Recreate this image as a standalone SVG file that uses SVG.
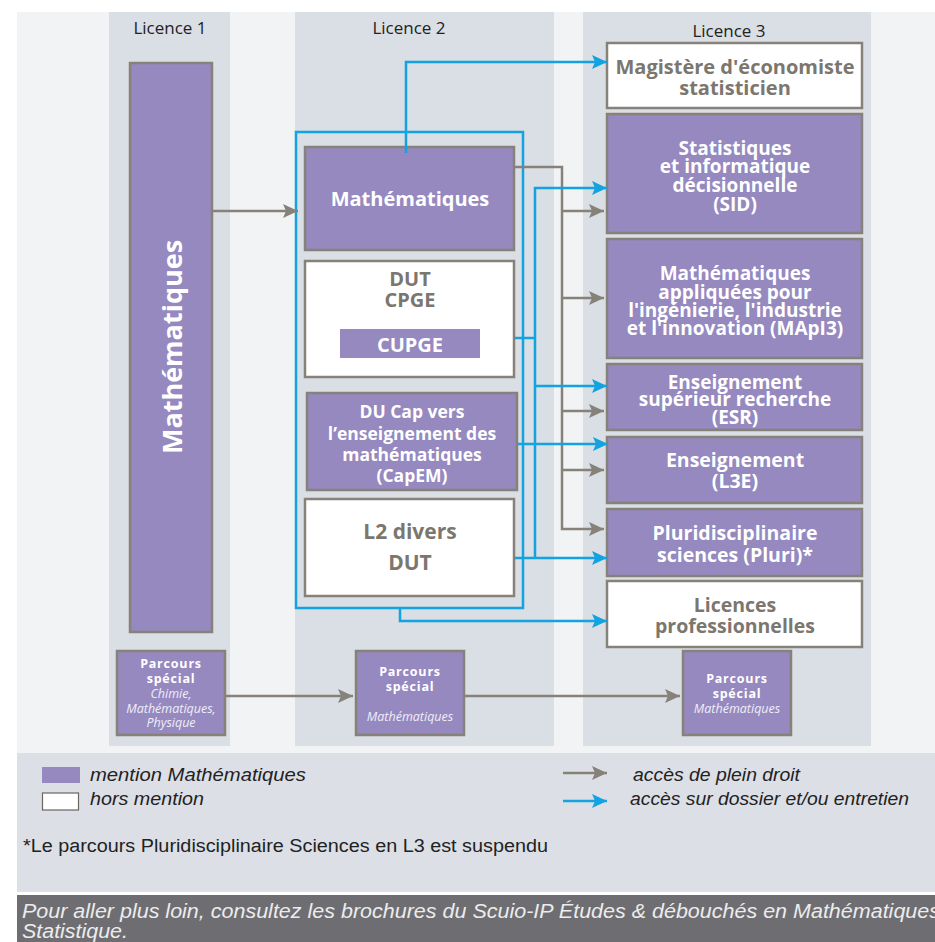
<svg xmlns="http://www.w3.org/2000/svg" width="935" height="942" viewBox="0 0 935 942">
<defs>
<marker id="ag" markerUnits="userSpaceOnUse" markerWidth="16" markerHeight="14" refX="15" refY="7" orient="auto"><path d="M0,0 L15,7 L0,14 L3,7 Z" fill="#878279"/></marker>
<marker id="ab" markerUnits="userSpaceOnUse" markerWidth="16" markerHeight="14" refX="15" refY="7" orient="auto"><path d="M0,0 L15,7 L0,14 L3,7 Z" fill="#13a3e0"/></marker>
<style>
.col{fill:#dadee5}
.p{fill:#9589c0;stroke:#878279;stroke-width:2.5}
.w{fill:#ffffff;stroke:#878279;stroke-width:2.5}
.tw{font-family:"Open Sans","Noto Sans",sans-serif;font-weight:bold;fill:#ffffff;text-anchor:middle}
.tg{font-family:"Open Sans","Noto Sans",sans-serif;font-weight:bold;fill:#7b766e;text-anchor:middle}
.hd{font-family:"Open Sans","Noto Sans",sans-serif;font-size:17px;fill:#222222;text-anchor:middle}
.ps{font-family:"Open Sans","Noto Sans",sans-serif;font-size:12.5px;font-weight:bold;fill:#ffffff;text-anchor:middle;letter-spacing:0.8px}
.pi{font-family:"Open Sans","Noto Sans",sans-serif;font-size:12.5px;font-style:italic;fill:#f0eef8;text-anchor:middle}
.g{fill:none;stroke:#878279;stroke-width:2.5}
.b{fill:none;stroke:#13a3e0;stroke-width:2.5}
.lg{font-family:"Liberation Sans",Arial,sans-serif;font-style:italic;font-size:18px;fill:#222222}
</style>
</defs>
<rect x="0" y="0" width="935" height="942" fill="#ffffff"/>
<rect x="17" y="12" width="918" height="741" fill="#f2f3f5"/>
<rect class="col" x="109" y="12" width="121" height="734"/>
<rect class="col" x="295" y="12" width="259" height="734"/>
<rect class="col" x="583" y="12" width="288" height="734"/>
<text class="hd" x="170" y="34">Licence 1</text>
<text class="hd" x="409" y="34">Licence 2</text>
<text class="hd" x="729" y="37">Licence 3</text>

<g id="l1-maths"><rect class="p" x="130" y="63" width="82" height="569"/><text class="tw" font-size="27" transform="translate(182,347) rotate(-90)">Mathématiques</text></g>

<g id="l2-container"><rect class="b" x="296" y="132" width="227" height="476"/></g>
<g id="l2-maths"><rect class="p" x="305" y="147" width="209" height="103"/><text class="tw" font-size="20" x="410" y="206">Mathématiques</text></g>
<g id="l2-dut-cpge"><rect class="w" x="305" y="261" width="209" height="116"/><text class="tg" font-size="20" x="410" y="286">DUT</text><text class="tg" font-size="20" x="410" y="307">CPGE</text><rect x="340" y="329" width="140" height="29" fill="#9589c0"/><text class="tw" font-size="20" x="410" y="352">CUPGE</text></g>
<g id="l2-capem"><rect class="p" x="307" y="393" width="210" height="97"/><text class="tw" font-size="17.5" x="412" y="418">DU Cap vers</text><text class="tw" font-size="17.5" x="412" y="440">l’enseignement des</text><text class="tw" font-size="17.5" x="412" y="461">mathématiques</text><text class="tw" font-size="17.5" x="412" y="482">(CapEM)</text></g>
<g id="l2-divers"><rect class="w" x="305" y="499" width="209" height="97"/><text class="tg" font-size="21" x="410" y="539">L2 divers</text><text class="tg" font-size="21" x="410" y="570">DUT</text></g>

<g id="l3-magistere"><rect class="w" x="607" y="43" width="255" height="65"/><text class="tg" font-size="20" x="735" y="74">Magistère d'économiste</text><text class="tg" font-size="20" x="735" y="95">statisticien</text></g>
<g id="l3-sid"><rect class="p" x="607" y="114" width="255" height="119"/><text class="tw" font-size="19" x="735" y="155">Statistiques</text><text class="tw" font-size="19" x="735" y="173">et informatique</text><text class="tw" font-size="19" x="735" y="192">décisionnelle</text><text class="tw" font-size="19" x="735" y="211">(SID)</text></g>
<g id="l3-mapi3"><rect class="p" x="607" y="239" width="255" height="119"/><text class="tw" font-size="19" x="735" y="280">Mathématiques</text><text class="tw" font-size="19" x="735" y="299">appliquées pour</text><text class="tw" font-size="19" x="735" y="317">l'ingénierie, l'industrie</text><text class="tw" font-size="19" x="735" y="335">et l'innovation (MApI3)</text></g>
<g id="l3-esr"><rect class="p" x="607" y="364" width="255" height="66"/><text class="tw" font-size="19" x="735" y="389">Enseignement</text><text class="tw" font-size="19" x="735" y="406">supérieur recherche</text><text class="tw" font-size="19" x="735" y="424">(ESR)</text></g>
<g id="l3-l3e"><rect class="p" x="607" y="437" width="255" height="66"/><text class="tw" font-size="19.5" x="735" y="467">Enseignement</text><text class="tw" font-size="19.5" x="735" y="488">(L3E)</text></g>
<g id="l3-pluri"><rect class="p" x="607" y="509" width="255" height="67"/><text class="tw" font-size="19.5" x="735" y="540">Pluridisciplinaire</text><text class="tw" font-size="19.5" x="735" y="562">sciences (Pluri)*</text></g>
<g id="l3-licpro"><rect class="w" x="607" y="581" width="255" height="66"/><text class="tg" font-size="19.5" x="735" y="612">Licences</text><text class="tg" font-size="19.5" x="735" y="633">professionnelles</text></g>

<g id="ps1"><rect class="p" x="117" y="651" width="108" height="84"/><text class="ps" x="171" y="668">Parcours</text><text class="ps" x="171" y="683">spécial</text><text class="pi" x="171" y="698">Chimie,</text><text class="pi" x="171" y="713">Mathématiques,</text><text class="pi" x="171" y="727">Physique</text></g>
<g id="ps2"><rect class="p" x="356" y="651" width="108" height="84"/><text class="ps" x="410" y="676">Parcours</text><text class="ps" x="410" y="691">spécial</text><text class="pi" x="410" y="721">Mathématiques</text></g>
<g id="ps3"><rect class="p" x="683" y="651" width="108" height="84"/><text class="ps" x="737" y="683">Parcours</text><text class="ps" x="737" y="698">spécial</text><text class="pi" x="737" y="713">Mathématiques</text></g>

<g id="connectors">
<path class="g" d="M213,211 H298" marker-end="url(#ag)"/>
<path class="g" d="M515,167 H562 V529 H604" marker-end="url(#ag)"/>
<path class="g" d="M562,211 H604" marker-end="url(#ag)"/>
<path class="g" d="M562,298 H604" marker-end="url(#ag)"/>
<path class="g" d="M562,411 H604" marker-end="url(#ag)"/>
<path class="g" d="M562,470 H604" marker-end="url(#ag)"/>
<path class="g" d="M226,696 H353" marker-end="url(#ag)"/>
<path class="g" d="M464,696 H680" marker-end="url(#ag)"/>
<path class="b" d="M406,153 V62 H607" marker-end="url(#ab)"/>
<path class="b" d="M535,558 V188 H607" marker-end="url(#ab)"/>
<path class="b" d="M515,338 H535"/>
<path class="b" d="M535,386 H607" marker-end="url(#ab)"/>
<path class="b" d="M515,558 H607" marker-end="url(#ab)"/>
<path class="b" d="M517,444 H608" marker-end="url(#ab)"/>
<path class="b" d="M400,608 V621 H607" marker-end="url(#ab)"/>
</g>

<g id="legend">
<rect x="17" y="753" width="918" height="139" fill="#dcdfe6"/>
<rect x="42" y="767" width="38" height="16" fill="#9589c0"/>
<text class="lg" x="90" y="781" textLength="216" lengthAdjust="spacingAndGlyphs">mention  Mathématiques</text>
<rect x="42.5" y="793" width="36" height="17" fill="#ffffff" stroke="#6b6760" stroke-width="1.2"/>
<text class="lg" x="90" y="805" textLength="114" lengthAdjust="spacingAndGlyphs">hors mention</text>
<path class="g" d="M563,773 H607" marker-end="url(#ag)"/>
<path class="b" d="M563,801 H607" marker-end="url(#ab)"/>
<text class="lg" x="633" y="781" textLength="167" lengthAdjust="spacingAndGlyphs">accès de plein droit</text>
<text class="lg" x="630" y="805" textLength="279" lengthAdjust="spacingAndGlyphs">accès sur dossier et/ou entretien</text>
<text x="23" y="852" font-family="Liberation Sans,Arial,sans-serif" font-size="18" fill="#222222" textLength="525" lengthAdjust="spacingAndGlyphs">*Le parcours Pluridisciplinaire Sciences en L3 est suspendu</text>
</g>
<g id="footer">
<rect x="17" y="895" width="918" height="47" fill="#6e6e72"/>
<text x="22" y="918" font-family="Liberation Sans,Arial,sans-serif" font-style="italic" font-size="20" fill="#ececec" textLength="918" lengthAdjust="spacingAndGlyphs">Pour aller plus loin, consultez les  brochures du Scuio-IP Études &amp; débouchés en Mathématiques</text>
<text x="22" y="938" font-family="Liberation Sans,Arial,sans-serif" font-style="italic" font-size="20" fill="#ececec" textLength="106" lengthAdjust="spacingAndGlyphs">Statistique.</text>
</g>
</svg>
